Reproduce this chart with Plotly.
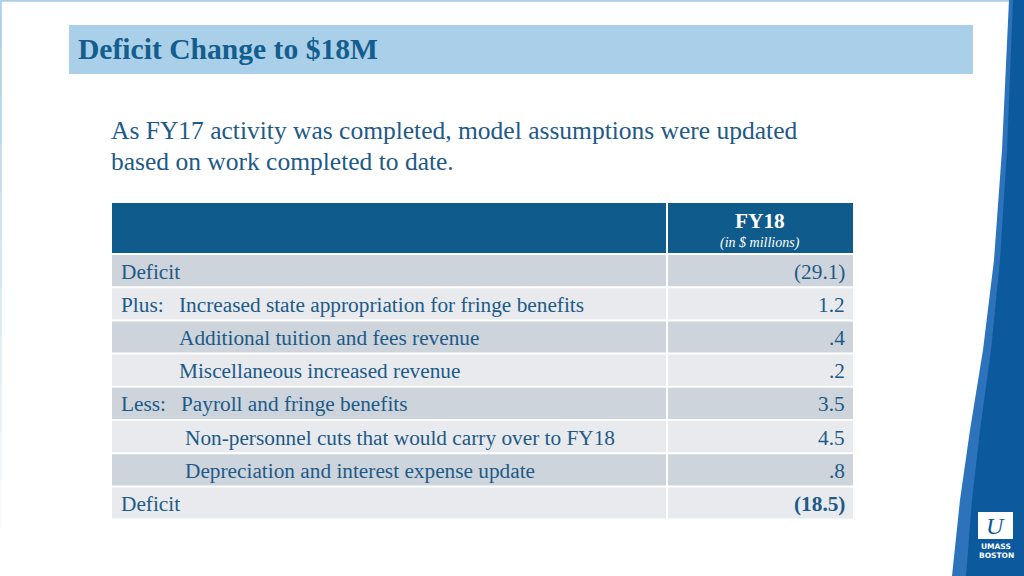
import plotly.graph_objects as go

# ---------------- data ----------------
title = "Deficit Change to $18M"
intro_lines = ["As FY17 activity was completed, model assumptions were updated",
               "based on work completed to date."]
column_header = "FY18"
column_sub = "(in $ millions)"
row_prefixes = ["", "Plus:", "", "", "Less:", "", "", ""]
row_items = ["Deficit",
             "Increased state appropriation for fringe benefits",
             "Additional tuition and fees revenue",
             "Miscellaneous increased revenue",
             "Payroll and fringe benefits",
             "Non-personnel cuts that would carry over to FY18",
             "Depreciation and interest expense update",
             "Deficit"]
row_values = [-29.1, 1.2, 0.4, 0.2, 3.5, 4.5, 0.8, -18.5]
row_bold = [False, False, False, False, False, False, False, True]


def fmt(v):
    s = f"{abs(v):.1f}"
    if s.startswith("0"):
        s = s[1:]
    return f"({s})" if v < 0 else s


# ---------------- layout / style ----------------
W, H = 1024, 576
SERIF = "Liberation Serif, Times New Roman, serif"
TEXT = "#1d5a88"
HEAD = "#0f5b8c"
ROW_DARK = "#ced4dc"
ROW_LIGHT = "#e8eaee"

tbl_left, tbl_right, col_split = 112, 853, 667
tbl_top, head_h, row_pitch, gap = 203, 50, 33.2, 2
item_x = [120, 178, 178, 178, 180, 184, 184, 120]

fig = go.Figure()
shapes = []
ann = []

# slide frame
shapes.append(dict(type="line", x0=0, x1=W, y0=0.8, y1=0.8, line=dict(color="#a9d0e8", width=2), layer="below"))
n_seg = 12
for k in range(n_seg):
    ya, yb = k * H / n_seg, (k + 1) * H / n_seg
    shapes.append(dict(type="line", x0=0.8, x1=0.8, y0=ya, y1=yb, opacity=max(0.0, 1 - k / n_seg * 1.1),
                       line=dict(color="#a9d0e8", width=2), layer="below"))

# title bar
shapes.append(dict(type="rect", x0=69, x1=973, y0=25, y1=74, fillcolor="#a9d0e8", line=dict(width=0), layer="below"))
ann.append(dict(x=76, y=49, text=f"<b>{title}</b>", xanchor="left", yanchor="middle", showarrow=False,
                font=dict(family=SERIF, size=29.6, color="#135d8f")))

# intro text
for i, line in enumerate(intro_lines):
    ann.append(dict(x=109, y=130 + i * 31, text=line, xanchor="left", yanchor="middle", showarrow=False,
                    font=dict(family=SERIF, size=25.5, color=TEXT)))

# table header
shapes.append(dict(type="rect", x0=tbl_left, x1=tbl_right, y0=tbl_top, y1=tbl_top + head_h,
                   fillcolor=HEAD, line=dict(width=0), layer="below"))
shapes.append(dict(type="line", x0=col_split, x1=col_split, y0=tbl_top, y1=tbl_top + head_h,
                   line=dict(color="white", width=2)))
cx = (col_split + tbl_right) / 2
ann.append(dict(x=cx, y=221, text=f"<b>{column_header}</b>", xanchor="center", yanchor="middle", showarrow=False,
                font=dict(family=SERIF, size=21.3, color="white")))
ann.append(dict(x=cx, y=242.5, text=f"<i>{column_sub}</i>", xanchor="center", yanchor="middle", showarrow=False,
                font=dict(family=SERIF, size=14, color="white")))

# table rows
body_top = tbl_top + head_h + gap
for i, (pre, item, val, bold) in enumerate(zip(row_prefixes, row_items, row_values, row_bold)):
    y0 = body_top + i * row_pitch
    y1 = y0 + row_pitch - gap
    fill = ROW_DARK if i % 2 == 0 else ROW_LIGHT
    shapes.append(dict(type="rect", x0=tbl_left, x1=col_split - 1, y0=y0, y1=y1, fillcolor=fill,
                       line=dict(width=0), layer="below"))
    shapes.append(dict(type="rect", x0=col_split + 1, x1=tbl_right, y0=y0, y1=y1, fillcolor=fill,
                       line=dict(width=0), layer="below"))
    yc = (y0 + y1) / 2 + 1
    if pre:
        ann.append(dict(x=119, y=yc, text=pre, xanchor="left", yanchor="middle", showarrow=False,
                        font=dict(family=SERIF, size=21.3, color=TEXT)))
    ann.append(dict(x=item_x[i] - 1, y=yc, text=item, xanchor="left", yanchor="middle", showarrow=False,
                    font=dict(family=SERIF, size=21.3, color=TEXT)))
    vt = fmt(val)
    if bold:
        vt = f"<b>{vt}</b>"
    ann.append(dict(x=tbl_right - 6, y=yc, text=vt, xanchor="right", yanchor="middle", showarrow=False,
                    font=dict(family=SERIF, size=21.3, color=TEXT)))

# right blue swoosh
outer = [(1009, 0), (1002, 150), (994, 260), (983, 350), (970, 430), (960, 500), (952, 576)]
inner = [(1013, 0), (1007, 150), (1000, 260), (991, 350), (980, 430), (972, 500), (966, 576)]


def path(pts):
    p = "M " + " L ".join(f"{x},{y}" for x, y in pts)
    return p + f" L {W},{H} L {W},0 Z"


shapes.append(dict(type="path", path=path(outer), fillcolor="#2c73bb", line=dict(width=0), layer="below"))
shapes.append(dict(type="path", path=path(inner), fillcolor="#0c599e", line=dict(width=0), layer="below"))

# logo
shapes.append(dict(type="rect", x0=978, x1=1013, y0=512, y1=539, fillcolor="white", line=dict(width=0)))
ann.append(dict(x=995.5, y=526, text="<i>U</i>", xanchor="center", yanchor="middle", showarrow=False,
                font=dict(family=SERIF, size=24, color="#0c599e")))
ann.append(dict(x=996, y=546, text="<b>UMASS</b>", xanchor="center", yanchor="middle", showarrow=False,
                font=dict(family="DejaVu Sans, sans-serif", size=7.5, color="white")))
ann.append(dict(x=996, y=555, text="<b>BOSTON</b>", xanchor="center", yanchor="middle", showarrow=False,
                font=dict(family="DejaVu Sans, sans-serif", size=7.5, color="white")))

fig.update_layout(
    width=W, height=H, margin=dict(l=0, r=0, t=0, b=0),
    paper_bgcolor="white", plot_bgcolor="white", showlegend=False,
    xaxis=dict(range=[0, W], visible=False, fixedrange=True),
    yaxis=dict(range=[H, 0], visible=False, fixedrange=True),
    shapes=shapes, annotations=ann,
)
fig.write_html("out.html", config={"displayModeBar": False},
               post_script="document.body.style.margin='0';document.body.style.overflow='hidden';")
